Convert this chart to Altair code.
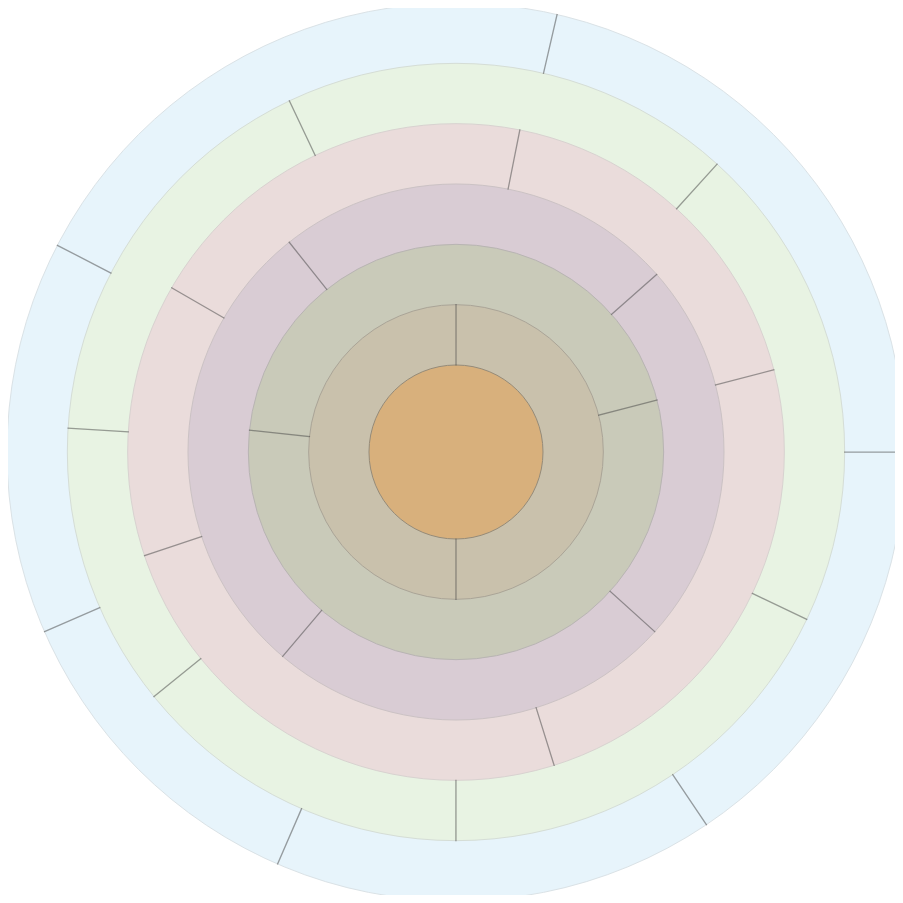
import math
import altair as alt
import pandas as pd

# Rings from the centre outwards
ring_names = ["Core", "Ring 2", "Ring 3", "Ring 4", "Ring 5", "Ring 6", "Ring 7"]
ring_levels = [1, 2, 3, 4, 5, 6, 7]
ring_colors = ["#d8b07c", "#c9c1ac", "#c9cab9", "#d9ccd4", "#eadcdb", "#e8f3e3", "#e7f4fb"]
ring_strokes = ["#958b79", "#aaa497", "#b8b4b3", "#cbc2c4", "#d8d2d0", "#d5ddd6", "#dae2e6"]

# Segment boundaries (degrees, clockwise from top) for each ring level
div_ring2 = [0, 180]
div_ring3 = [75.5, 276]
div_ring4 = [48.5, 132.1, 220.3, 321.5]
div_ring5 = [11.2, 75.5, 162.6, 251.6, 300]
div_ring6 = [42.2, 115.5, 180, 231, 273.5, 334.6]
div_ring7 = [13, 90, 146.1, 203.4, 246.4, 297.4]

dividers = {2: div_ring2, 3: div_ring3, 4: div_ring4, 5: div_ring5, 6: div_ring6, 7: div_ring7}

discs = pd.DataFrame({"ring": ring_names, "level": ring_levels}).iloc[::-1].reset_index(drop=True)

rows = []
for lvl, angles in dividers.items():
    for a in angles:
        rows.append({"level": lvl, "inner": lvl - 1, "angle": a, "angle2": a + 0.02})
div_df = pd.DataFrame(rows)

rscale = alt.Scale(type="linear", domain=[0, 7], range=[26.67, 449], zero=False)
tscale = alt.Scale(domain=[0, 360], range=[0, 2 * math.pi])

CX, CY = 448, 444

disc_layer = alt.Chart(discs).mark_arc(strokeWidth=1).encode(
    x=alt.value(CX),
    y=alt.value(CY),
    radius=alt.Radius("level:Q", scale=rscale, stack=None),
    radius2=alt.value(0),
    theta=alt.value(0),
    theta2=alt.value(2 * math.pi),
    fill=alt.Fill("ring:N", scale=alt.Scale(domain=ring_names, range=ring_colors), legend=None),
    stroke=alt.Stroke("ring:N", scale=alt.Scale(domain=ring_names, range=ring_strokes), legend=None),
)

div_layer = alt.Chart(div_df).mark_arc(
    stroke="#444444", strokeOpacity=0.5, strokeWidth=1.2, fillOpacity=0
).encode(
    x=alt.value(CX),
    y=alt.value(CY),
    theta=alt.Theta("angle:Q", scale=tscale, stack=None),
    theta2="angle2:Q",
    radius=alt.Radius("level:Q", scale=rscale, stack=None),
    radius2="inner:Q",
)

chart = alt.layer(disc_layer, div_layer).properties(
    width=887, height=887, padding=0, autosize=alt.AutoSizeParams(type="none")
).configure_view(stroke=None)

chart.save("out.html", embed_options={"renderer": "svg", "actions": False})
